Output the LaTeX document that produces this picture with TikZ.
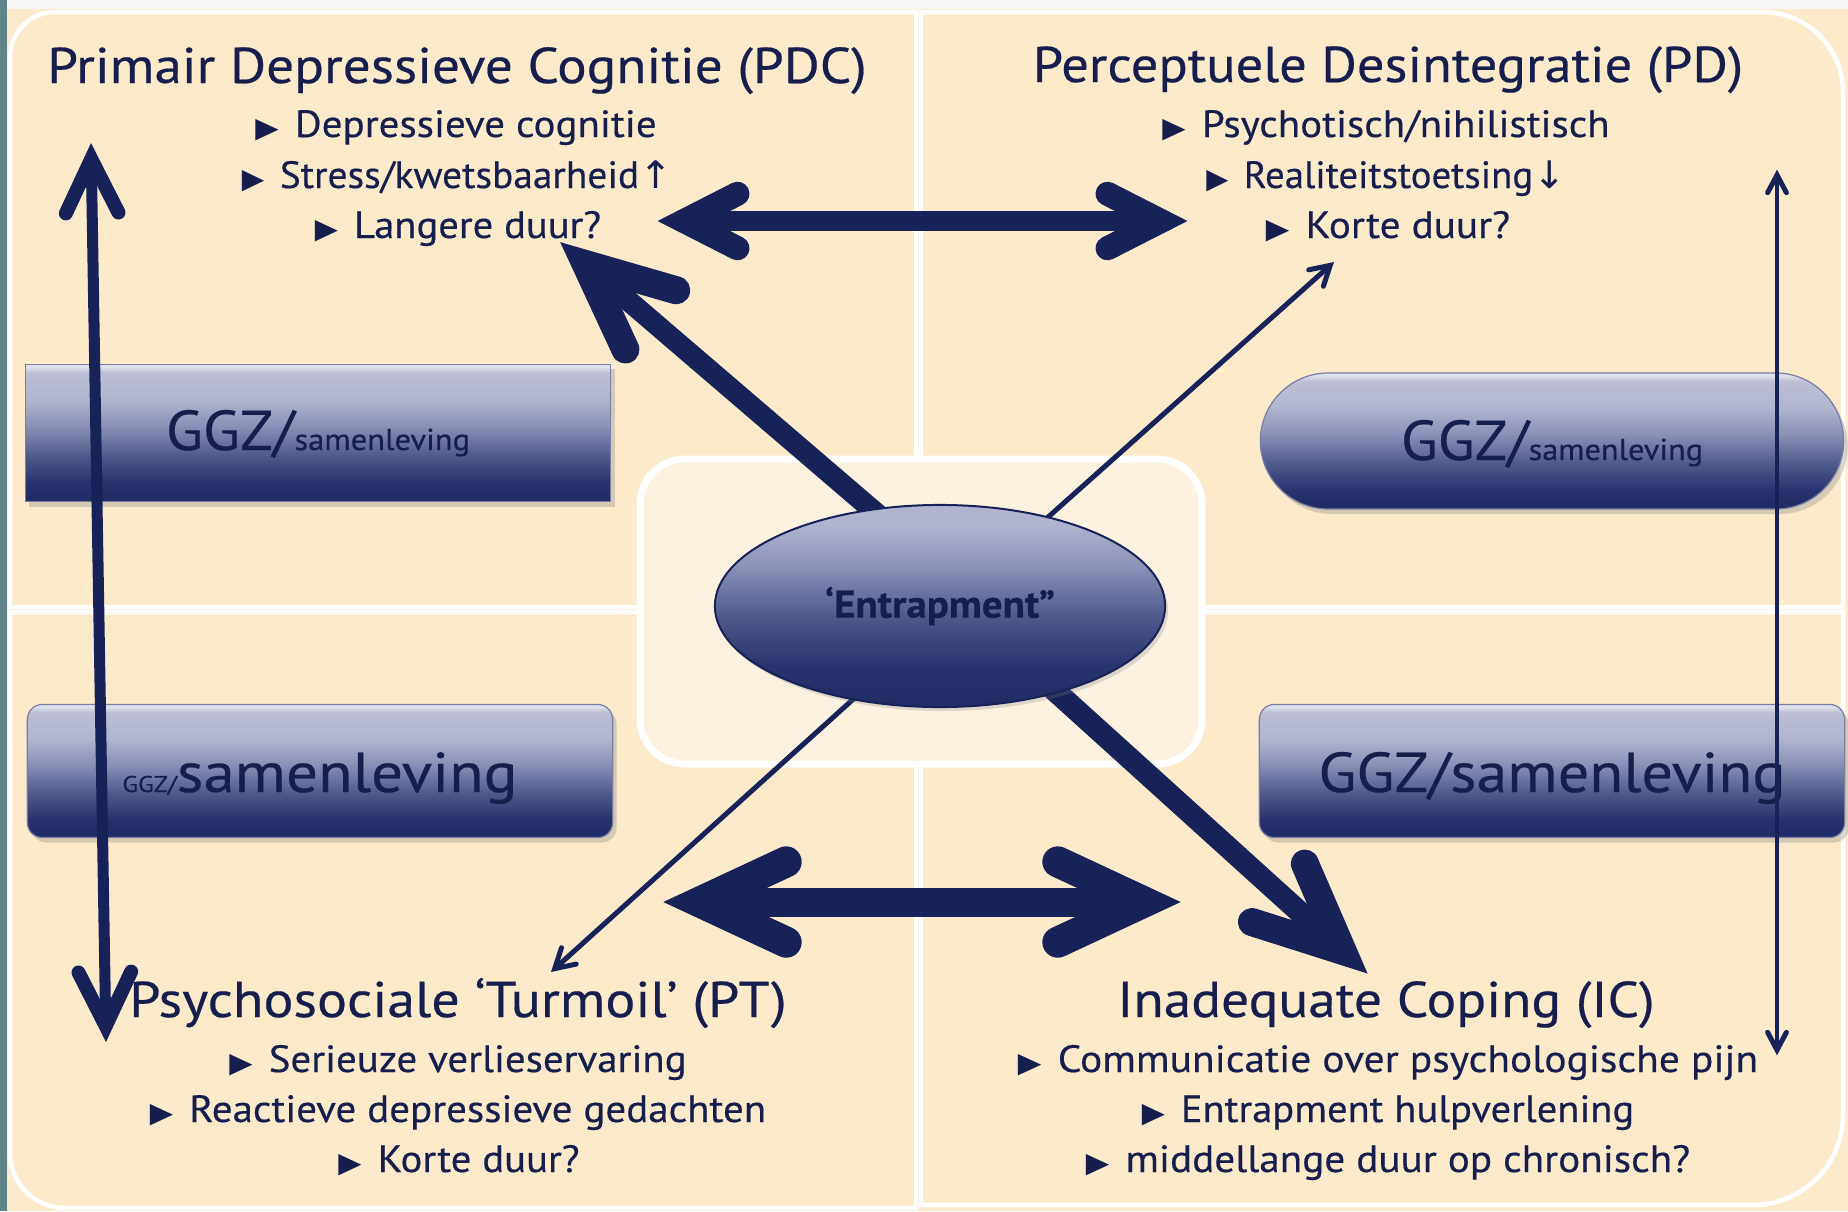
\documentclass[tikz,border=0pt]{standalone}
\usepackage{fontspec}
\usepackage{graphicx}
\setmainfont{PT Sans}[FakeBold=0.4]
\newfontfamily\djv{DejaVu Sans}
\usetikzlibrary{calc,shapes.geometric,shadows}
\definecolor{cream}{RGB}{252,234,203}
\definecolor{creamc}{RGB}{253,242,224}
\definecolor{topw}{RGB}{246,246,244}
\definecolor{tealstrip}{RGB}{94,132,136}
\definecolor{navy}{RGB}{22,34,88}
\definecolor{textc}{RGB}{22,30,78}
\definecolor{ggzedge}{RGB}{120,126,166}
\definecolor{gA}{RGB}{33,43,100}
\definecolor{gB}{RGB}{40,51,110}
\definecolor{gC}{RGB}{82,91,142}
\definecolor{gD}{RGB}{140,146,184}
\definecolor{gE}{RGB}{176,180,206}
\definecolor{gF}{RGB}{188,191,213}
\definecolor{gG}{RGB}{222,224,234}
\pgfdeclareverticalshading{ggzshade}{100bp}{color(0bp)=(gA); color(26bp)=(gA); color(32bp)=(gB); color(42bp)=(gC); color(53bp)=(gD); color(62bp)=(gE); color(72bp)=(gF); color(74bp)=(gG); color(100bp)=(gG)}
\pgfdeclareverticalshading{entshade}{100bp}{color(0bp)=(gA); color(25bp)=(gA); color(35bp)=(gB); color(48bp)=(gC); color(60bp)=(gD); color(70bp)=(gE); color(75bp)=(gE); color(100bp)=(gE)}
\pgfdeclarelayer{back}
\pgfdeclarelayer{mid}
\pgfsetlayers{back,mid,main}
\newcommand\myfit[2]{\resizebox{#1}{\height}{#2}}
\newcommand\bul{{\djv\fontsize{8pt}{9pt}\selectfont ▶}\hspace{0.15cm}}
% chevron arrow head: #1 tip, #2 toward, #3 miter offset, #4 arm length, #5 half angle, #6 width
\newcommand\chev[6]{%
  \coordinate (#1v) at ($(#1)!#3!(#2)$);
  \draw[navy, line width=#6, line cap=round, line join=miter, miter limit=20]
    ($(#1v)!#4!#5:(#2)$) -- (#1v) -- ($(#1v)!#4!-#5:(#2)$);}
\begin{document}
\begin{tikzpicture}[x=0.01cm,y=-0.01cm,
  ttl/.style={anchor=base, inner sep=0pt, text=textc, font=\fontsize{14.3pt}{17pt}\selectfont},
  itm/.style={anchor=base, inner sep=0pt, text=textc, font=\fontsize{10.8pt}{13pt}\selectfont},
  ggz/.style={shade, shading=ggzshade, draw=ggzedge, line width=0.012cm, text=textc, inner sep=0pt, text depth=0pt,
    drop shadow={opacity=0.3, shadow xshift=0.04cm, shadow yshift=-0.05cm}},
  quad/.style={fill=cream, draw=white, line width=0.045cm}]
\useasboundingbox (0,0) rectangle (1848,1211);
\begin{pgfonlayer}{back}
\fill[cream] (0,0) rectangle (1848,1211);
\fill[topw] (0,0) rectangle (1848,9);
\fill[tealstrip] (0,0) rectangle (7,1211);
\filldraw[quad] (10,300) [rounded corners=0.45cm] -- (10,12) -- (500,12) [sharp corners] -- (916,12) -- (916,607) -- (10,607) -- cycle;
\filldraw[quad] (1843,300) [rounded corners=0.8cm] -- (1843,12) -- (1400,12) [sharp corners] -- (921,12) -- (921,607) -- (1843,607) -- cycle;
\filldraw[quad] (10,900) [rounded corners=0.55cm] -- (10,1208) -- (500,1208) [sharp corners] -- (916,1208) -- (916,612) -- (10,612) -- cycle;
\filldraw[quad] (1843,900) [rounded corners=0.9cm] -- (1843,1205) -- (1400,1205) [sharp corners] -- (921,1205) -- (921,612) -- (1843,612) -- cycle;
\filldraw[fill=creamc, draw=white, line width=0.07cm, rounded corners=0.45cm] (640,459) rectangle (1202,764);
\node[ggz, minimum width=5.85cm, minimum height=1.37cm, text height=0.34cm] (g1) at (318,433)
  {\myfit{3.04cm}{\fontsize{16pt}{18pt}\selectfont GGZ/\fontsize{8.6pt}{10pt}\selectfont samenleving}};
\node[ggz, minimum width=5.83cm, minimum height=1.36cm, rounded corners=0.68cm, text height=0.38cm] (g2) at (1552,441)
  {\myfit{3.02cm}{\fontsize{16pt}{18pt}\selectfont GGZ/\fontsize{8.6pt}{10pt}\selectfont samenleving}};
\node[ggz, minimum width=5.85cm, minimum height=1.33cm, rounded corners=0.15cm, text height=0.42cm] (g3) at (320,771)
  {\myfit{3.95cm}{\fontsize{6.5pt}{7pt}\selectfont GGZ/\fontsize{16pt}{18pt}\selectfont samenleving}};
\node[ggz, minimum width=5.85cm, minimum height=1.33cm, rounded corners=0.15cm, text height=0.42cm] (g4) at (1552,771)
  {\myfit{4.67cm}{\fontsize{16pt}{18pt}\selectfont GGZ/samenleving}};
\end{pgfonlayer}
% central ellipse
\node[ellipse, shade, shading=entshade, draw=navy, line width=0.02cm, minimum width=4.5cm, minimum height=2.02cm,
  inner sep=0pt, text=textc, font=\bfseries\fontsize{11pt}{12pt}\selectfont,
  drop shadow={opacity=0.25, shadow xshift=0.03cm, shadow yshift=-0.04cm}] (ent) at (940,606)
  {\myfit{2.30cm}{‘Entrapment”}};
% titles and items
\node[ttl] (pdc) at (457,83) {\myfit{8.19cm}{Primair Depressieve Cognitie (PDC)}};
\node[itm] (pdc1) at (456,137) {\myfit{4.01cm}{\bul Depressieve cognitie}};
\node[itm] (pdc2) at (457,188) {\myfit{4.30cm}{\bul Stress/kwetsbaarheid{\djv ↑}}};
\node[itm] (pdc3) at (458,238) {\myfit{2.86cm}{\bul Langere duur?}};
\node[ttl] (pd) at (1388,82) {\myfit{7.10cm}{Perceptuele Desintegratie (PD)}};
\node[itm] (pd1) at (1386,137) {\myfit{4.47cm}{\bul Psychotisch/nihilistisch}};
\node[itm] (pd2) at (1386,188) {\myfit{3.59cm}{\bul Realiteitstoetsing{\djv ↓}}};
\node[itm] (pd3) at (1388,238) {\myfit{2.44cm}{\bul Korte duur?}};
\node[ttl] (pt) at (458,1017) {\myfit{6.57cm}{Psychosociale ‘Turmoil’ (PT)}};
\node[itm] (pt1) at (458,1072) {\myfit{4.57cm}{\bul Serieuze verlieservaring}};
\node[itm] (pt2) at (458,1122) {\myfit{6.16cm}{\bul Reactieve depressieve gedachten}};
\node[itm] (pt3) at (459,1172) {\myfit{2.41cm}{\bul Korte duur?}};
\node[ttl] (ic) at (1386,1017) {\myfit{5.37cm}{Inadequate Coping (IC)}};
\node[itm] (ic1) at (1388,1072) {\myfit{7.40cm}{\bul Communicatie over psychologische pijn}};
\node[itm] (ic2) at (1388,1122) {\myfit{4.92cm}{\bul Entrapment hulpverlening}};
\node[itm] (ic3) at (1388,1172) {\myfit{6.04cm}{\bul middellange duur op chronisch?}};
% arrow end points
\coordinate (aL) at (657,221); \coordinate (aR) at (1188,221);
\coordinate (bL) at (662,902); \coordinate (bR) at (1182,902);
\coordinate (cT) at (560,242); \coordinate (cS) at ($(ent.center)+(-50,-81)$);
\coordinate (dT) at (1367,973); \coordinate (dS) at ($(ent.center)+(70,44)$);
\coordinate (eT) at (1334,262); \coordinate (eS) at ($(ent.center)+(60,-46)$);
\coordinate (fT) at (551,972); \coordinate (fS) at ($(ent.center)+(-60,69)$);
\coordinate (gT) at (91,143); \coordinate (gB) at (106,1042);
\coordinate (hT) at (1777,170); \coordinate (hB) at (1777,1055);
\begin{pgfonlayer}{mid}
% top horizontal double arrow
\chev{aL}{aR}{0.27cm}{0.6cm}{27}{0.24cm}
\chev{aR}{aL}{0.27cm}{0.6cm}{27}{0.24cm}
\draw[navy, line width=0.2cm] (aLv) -- (aRv);
% bottom horizontal double arrow
\chev{bL}{bR}{0.38cm}{0.95cm}{25}{0.31cm}
\chev{bR}{bL}{0.38cm}{0.95cm}{25}{0.31cm}
\draw[navy, line width=0.29cm] (bLv) -- (bRv);
% thick diagonals
\chev{cT}{cS}{0.34cm}{0.94cm}{24.5}{0.28cm}
\draw[navy, line width=0.21cm] (cS) -- (cTv);
\chev{dT}{dS}{0.33cm}{0.95cm}{24.5}{0.28cm}
\draw[navy, line width=0.22cm] (dS) -- (dTv);
% thin diagonals
\chev{eT}{eS}{0.05cm}{0.22cm}{30}{0.05cm}
\draw[navy, line width=0.05cm] (eS) -- (eTv);
\chev{fT}{fS}{0.05cm}{0.22cm}{30}{0.05cm}
\draw[navy, line width=0.05cm] (fS) -- (fTv);
% left vertical double arrow
\chev{gT}{gB}{0.16cm}{0.6cm}{26}{0.14cm}
\chev{gB}{gT}{0.16cm}{0.6cm}{26}{0.14cm}
\draw[navy, line width=0.11cm] (gTv) -- (gBv);
% right vertical double arrow
\chev{hT}{hB}{0.05cm}{0.2cm}{28}{0.05cm}
\chev{hB}{hT}{0.05cm}{0.2cm}{28}{0.05cm}
\draw[navy, line width=0.045cm] (hTv) -- (hBv);
\end{pgfonlayer}
\end{tikzpicture}
\end{document}
